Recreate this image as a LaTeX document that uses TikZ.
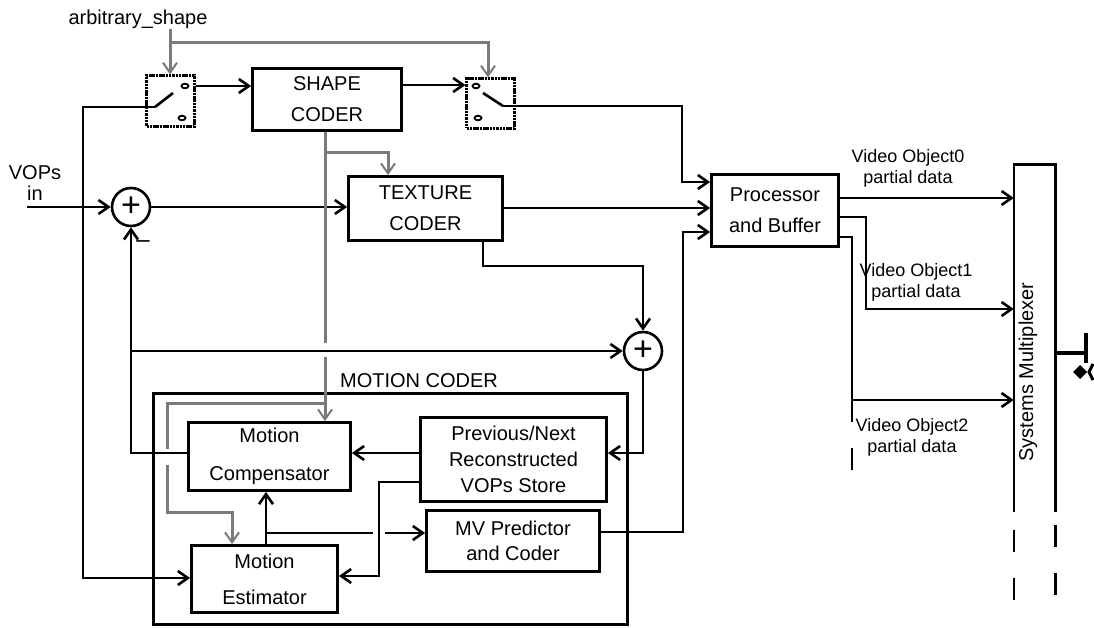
\documentclass[tikz,border=0pt]{standalone}
\usepackage{fontspec}
\setmainfont{Liberation Sans}
\usetikzlibrary{arrows.meta, positioning}

\begin{document}
\begin{tikzpicture}[
        x = 1pt, y = -1pt,
        >= {Straight Barb[length = 10pt, width = 14pt]},
        wire/.style = {line width = 2.6pt},
        ctl/.style = {draw = black!52, line width = 3pt},
        ctlarrow/.style = {ctl, -{Straight Barb[length = 10pt, width = 14pt, line width = 2pt]}},
        block/.style = {draw, line width = 2.8pt, inner sep = 0pt, align = center,
                        font = \fontsize{20}{31}\selectfont},
        switchbox/.style = {draw, line width = 2.2pt, dash pattern = on 2.5pt off 0.8pt, inner sep = 0pt},
        adder/.style = {circle, draw, line width = 2.6pt, minimum size = 38pt, inner sep = 0pt,
                        font = \fontsize{34}{34}\selectfont},
        txt/.style = {font = \fontsize{20}{24}\selectfont, inner sep = 0pt},
        votxt/.style = {font = \fontsize{18}{21}\selectfont, align = center, inner sep = 0pt}
    ]

    \useasboundingbox (0,0) rectangle (1094,628);

    % switches and coders
    \node[switchbox, minimum width = 48pt, minimum height = 51pt] (sw1) at (170.5,101) {};
    \node[switchbox, minimum width = 48pt, minimum height = 50pt] (sw2) at (490.5,103.5) {};
    \node[block, minimum width = 149pt, minimum height = 62pt] (shape)   at (327,99.5)  {SHAPE\\CODER};
    \node[block, minimum width = 154pt, minimum height = 64pt] (texture) at (425.5,208.5) {TEXTURE\\CODER};
    \node[block, minimum width = 127pt, minimum height = 72pt] (proc)    at (775,210.5) {Processor\\and Buffer};

    \node[adder] (add1) at (131,207) {+};
    \node[adder] (add2) at (643,351) {+};

    % motion coder
    \node[block, minimum width = 474pt, minimum height = 231pt] (mc) at (390.5,509) {};
    \node[txt] (mclabel) at (419,381) {MOTION CODER};
    \node[block, minimum width = 162pt, minimum height = 68pt, font = \fontsize{20}{38}\selectfont]
        (comp)  at (269.5,456.5) {Motion\\Compensator};
    \node[block, minimum width = 146pt, minimum height = 67pt, font = \fontsize{20}{36}\selectfont]
        (est)   at (264.5,579)   {Motion\\Estimator};
    \node[block, minimum width = 186pt, minimum height = 84pt, font = \fontsize{20}{26}\selectfont]
        (store) at (513.5,459.5) {Previous/Next\\Reconstructed\\VOPs Store};
    \node[block, minimum width = 173pt, minimum height = 61pt, font = \fontsize{20}{25}\selectfont]
        (mvp)   at (513,541)     {MV Predictor\\and Coder};

    % multiplexer
    \node[minimum width = 41pt, minimum height = 347pt, inner sep = 0pt] (mux) at (1034.5,338.5) {};
    \node[txt, rotate = 90] (muxlabel) at (1028,372) {Systems Multiplexer};

    % texts
    \node[txt] (arb) at (138,19) {arbitrary\_shape};
    \node[txt, align = center, font = \fontsize{20}{21}\selectfont] (vops) at (35,183) {VOPs\\in};
    \node[txt, font = \fontsize{24}{24}\selectfont] (minus) at (143,244) {--};
    \node[votxt] (vo0) at (908,168) {Video Object0\\partial data};
    \node[votxt] (vo1) at (916,282) {Video Object1\\partial data};
    \node[votxt] (vo2) at (912,437) {Video Object2\\partial data};

    \coordinate (vin)  at (27,207);
    \coordinate (sw1p) at (155,107);
    \coordinate (sw2p) at (503,106);

    % switch contacts and blades
    \foreach \p in {(185,86), (182,118), (476,86), (478,118)}
        \draw[line width = 1.8pt] \p ellipse [x radius = 3.5pt, y radius = 2.3pt];
    \draw[wire] (sw1p) -- (173,93);
    \draw[wire] (483,93) -- (sw2p);

    % signal paths
    \draw[wire, ->] (vin) -- (add1.west);
    \draw[wire, ->] (sw1p) -| (83,578) -- (est.west |- 0,578);
    \draw[wire, ->] (sw1.east |- 0,86) -- (shape.west |- 0,86);
    \draw[wire, ->] (shape.east |- 0,85) -- (sw2.west |- 0,85);
    \draw[wire, ->] (sw2p) -| (682,182) -- (proc.west |- 0,182);
    \draw[wire, ->] (add1.east) -- (texture.west |- add1.east);
    \draw[wire, ->] (texture.east |- 0,208) -- (proc.west |- 0,208);
    \draw[wire, ->] (texture.south -| 483,0) |- (add2 |- 0,266) -- (add2.north);
    \draw[wire, ->] (add2.south) |- (store.east |- 0,453);
    \draw[wire, ->] (store.west |- 0,453) -- (comp.east |- 0,453);
    \draw[wire, ->] (comp.west |- 0,453) -| (add1.south);
    \draw[wire, ->] (add1.south |- add2.west) -- (add2.west);
    \draw[wire, ->] (store.west |- 0,482) -| (379,576) -- (est.east |- 0,576);
    \draw[wire, ->] (est.north -| 266,0) -- (comp.south -| 266,0);
    \draw[wire] (266,533) -- (373,533);
    \draw[wire, ->] (385,533) -- (mvp.west |- 0,533);
    \draw[wire, ->] (mvp.east |- 0,532) -| (683,232) -- (proc.west |- 0,232);

    % outputs to the multiplexer
    \draw[wire, ->] (proc.east |- 0,198) -- (mux.west |- 0,198);
    \draw[wire, ->] (proc.east |- 0,217) -| (866,309) -- (mux.west |- 0,309);
    \draw[wire, ->] (proc.east |- 0,237) -| (852,400) -- (mux.west |- 0,400);
    \draw[wire] (852,400) -- (852,422);
    \draw[wire] (852,448) -- (852,470);

    \draw[wire] (mux.south west) -- (mux.north west) -- (mux.north east) -- (mux.south east);
    \foreach \y in {530,578} \draw[wire] (mux.west |- 0,\y) -- ++(0,22);
    \foreach \y in {525,573} \draw[wire] (mux.east |- 0,\y) -- ++(0,22);

    \draw[line width = 3.5pt] (mux.east |- 0,353) -- (1086,353);
    \draw[line width = 4pt] (1086,333) -- (1086,363);
    \fill (1080,365) -- (1087,372) -- (1080,379) -- (1073,372) -- cycle;
    \draw[line width = 3pt] (1093,364) -- (1089,372) -- (1093,380);

    % control paths
    \draw[ctlarrow] (arb.south -| 170,0) -- (sw1.north -| 170,0);
    \draw[ctlarrow] (170,43) -| (sw2.north -| 488,0);
    \draw[ctl] (shape.south -| 325,0) -- (325,343);
    \draw[ctlarrow] (325,153) -| (texture.north -| 388,0);
    \draw[ctlarrow] (325,357) -- (comp.north -| 325,0);
    \draw[ctl] (325,403) -| (167,449);
    \draw[ctlarrow] (167,465) |- (232,512) -- (est.north -| 232,0);

\end{tikzpicture}
\end{document}
